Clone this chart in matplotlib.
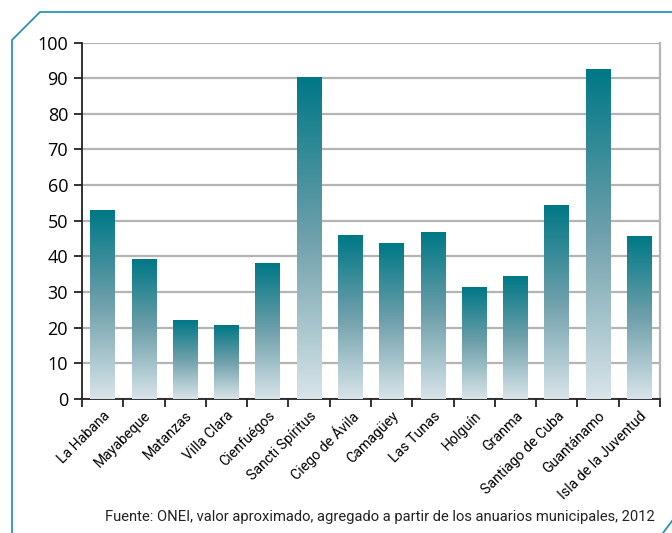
import numpy as np
import matplotlib.pyplot as plt
from matplotlib.colors import LinearSegmentedColormap
from matplotlib.lines import Line2D

plt.rcParams['font.family'] = ['Roboto', 'DejaVu Sans']

provincias = ['La Habana', 'Mayabeque', 'Matanzas', 'Villa Clara', 'Cienfuégos',
              'Sancti Spíritus', 'Ciego de Ávila', 'Camagüey', 'Las Tunas', 'Holguín',
              'Granma', 'Santiago de Cuba', 'Guantánamo', 'Isla de la Juventud']
valores = [53.0, 39.0, 21.9, 20.5, 37.9, 90.2, 46.0, 43.5, 46.8, 31.4, 34.5, 54.4, 92.3, 45.7]
yticks = list(range(0, 101, 10))
fuente = 'Fuente: ONEI, valor aproximado, agregado a partir de los anuarios municipales, 2012'

W, H = 672, 533
fig = plt.figure(figsize=(W / 100, H / 100), dpi=100)
ax = fig.add_axes([82 / W, 1 - 399 / H, (660 - 82) / W, (399 - 42.5) / H])

# gradient for the bars: dark teal on top, pale at the base
cmap = LinearSegmentedColormap.from_list('teal', ['#d8e4e9', '#6fa0ab', '#007886'])
grad = np.linspace(0, 1, 256).reshape(-1, 1)
width = 0.6
x = np.arange(len(provincias))
for xi, v in zip(x, valores):
    ax.imshow(grad, cmap=cmap, origin='lower', aspect='auto', interpolation='bilinear',
              extent=(xi - width / 2, xi + width / 2, 0, v), zorder=3)

ax.set_xlim(-0.5, len(provincias) - 0.5)
ax.set_ylim(0, 100)
ax.set_yticks(yticks)
ax.set_yticklabels([str(t) for t in yticks], fontsize=13, family=['Open Sans', 'DejaVu Sans'])
ax.grid(axis='y', color='#b4b4b4', linewidth=1.6, zorder=1)
ax.set_axisbelow(True)

ax.set_xticks(x)
ax.set_xticklabels(provincias, rotation=45, ha='right', rotation_mode='anchor', fontsize=10.2)
ax.set_xticks(np.arange(-0.5, len(provincias)), minor=True)
ax.tick_params(axis='x', which='major', length=0, pad=7)
ax.tick_params(axis='x', which='minor', length=6, width=1.3, color='#222222', direction='out')
ax.tick_params(axis='y', length=6, width=1.3, color='#222222', direction='out', pad=4)

for s in ['left', 'bottom']:
    ax.spines[s].set_color('#222222')
    ax.spines[s].set_linewidth(1.3)
ax.spines['top'].set_visible(False)
ax.spines['right'].set_color('#b4b4b4')
ax.spines['right'].set_linewidth(1.6)

fig.text(655 / W, 1 - 517 / H, fuente, ha='right', va='center', fontsize=10.6, color='#222222')

# chamfered frame around the chart
frame = '#2b92bd'
fig.add_artist(Line2D([12 / W, 12 / W, 40 / W, 1.0], [0, 1 - 40 / H, 1 - 12 / H, 1 - 12 / H],
                      transform=fig.transFigure, color=frame, linewidth=1.3))
fig.add_artist(Line2D([663 / W, 1.0], [0, 1 - 521 / H],
                      transform=fig.transFigure, color=frame, linewidth=1.3))

fig.savefig('out.png', dpi=100)
